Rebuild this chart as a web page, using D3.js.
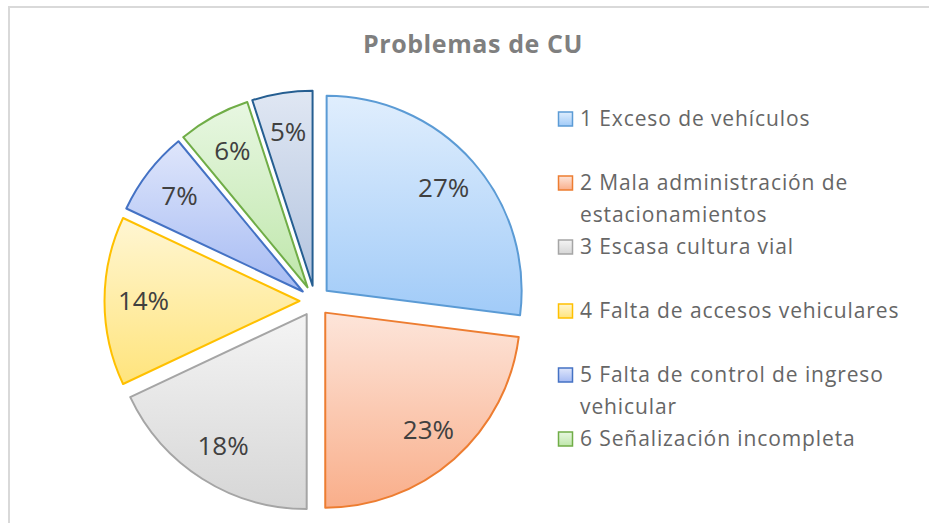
<!DOCTYPE html>
<html>
<head>
<meta charset="utf-8">
<script src="https://cdn.jsdelivr.net/npm/d3@7"></script>
<style>
  body { margin: 0; background: #fff; }
  svg { display: block; font-family: "Open Sans", sans-serif; }
</style>
</head>
<body>
<div id="chart"></div>
<script>
// data
var chartTitle = "Problemas de CU";
var categories = [
    "1 Exceso de vehículos",
    "2 Mala administración de estacionamientos",
    "3 Escasa cultura vial",
    "4 Falta de accesos vehiculares",
    "5 Falta de control de ingreso vehicular",
    "6 Señalización incompleta",
    "7 Otros"
];
var percents = [27, 23, 18, 14, 7, 6, 5];
// legend lines as they wrap in the picture (7th entry is cut off there)
var legendLines = [
    ["1 Exceso de vehículos"],
    ["2 Mala administración de", "estacionamientos"],
    ["3 Escasa cultura vial"],
    ["4 Falta de accesos vehiculares"],
    ["5 Falta de control de ingreso", "vehicular"],
    ["6 Señalización incompleta"]
];

// excel-ish palette: border colour, gradient top, gradient bottom
var strokeColors = ["#5b9bd5", "#ed7d31", "#a5a5a5", "#ffc000", "#4472c4", "#70ad47", "#255e91"];
var topColors    = ["#e0eefd", "#fde5da", "#f4f4f4", "#fff6d3", "#dfe6fb", "#e8f7e2", "#e0e7f3"];
var bottomColors = ["#a1cbf8", "#f9ae8a", "#d6d6d6", "#ffe47c", "#a6bbf3", "#bfe7ab", "#b3c4df"];

var width = 929, height = 523;
var cx = 315, cy = 301, radius = 195, explode = 15.5;

var svg = d3.select("#chart").append("svg")
    .attr("width", width)
    .attr("height", height);

// chart area border
svg.append("path")
    .attr("d", "M9," + height + "V7H" + width)
    .attr("fill", "none")
    .attr("stroke", "#d9d9d9")
    .attr("stroke-width", 2);

// gradients
var defs = svg.append("defs");
percents.forEach(function (p, i) {
    var g = defs.append("linearGradient")
        .attr("id", "grad" + i)
        .attr("x1", 0).attr("y1", 0).attr("x2", 0).attr("y2", 1);
    g.append("stop").attr("offset", "0%").attr("stop-color", topColors[i]);
    g.append("stop").attr("offset", "100%").attr("stop-color", bottomColors[i]);
});

// title
svg.append("text")
    .attr("x", 473)
    .attr("y", 53)
    .attr("text-anchor", "middle")
    .attr("font-size", 25)
    .attr("font-weight", "bold")
    .attr("letter-spacing", 0.6)
    .attr("fill", "#7f7f7f")
    .text(chartTitle);

// pie
var pie = d3.pie().value(function (d) { return d; }).sort(null);
var arc = d3.arc().innerRadius(0).outerRadius(radius);
var labelArc = d3.arc().innerRadius(156).outerRadius(156);

var g = svg.append("g").attr("transform", "translate(" + cx + "," + cy + ")");

var slices = g.selectAll("g.slice")
    .data(pie(percents))
    .enter()
    .append("g")
    .attr("class", "slice")
    .attr("transform", function (d) {
        var a = (d.startAngle + d.endAngle) / 2;
        return "translate(" + (explode * Math.sin(a)) + "," + (-explode * Math.cos(a)) + ")";
    });

slices.append("path")
    .attr("d", arc)
    .attr("fill", function (d, i) { return "url(#grad" + i + ")"; })
    .attr("stroke", function (d, i) { return strokeColors[i]; })
    .attr("stroke-width", 2)
    .attr("stroke-linejoin", "round");

slices.append("text")
    .attr("transform", function (d) { return "translate(" + labelArc.centroid(d) + ")"; })
    .attr("text-anchor", "middle")
    .attr("dy", "0.36em")
    .attr("font-size", 26)
    .attr("fill", "#404040")
    .text(function (d) { return d.data + "%"; });

// legend
var legend = svg.append("g");
var items = legend.selectAll("g.item")
    .data(legendLines)
    .enter()
    .append("g")
    .attr("class", "item")
    .attr("transform", function (d, i) { return "translate(0," + (126 + i * 64) + ")"; });

items.append("rect")
    .attr("x", 558.5)
    .attr("y", -14)
    .attr("width", 14)
    .attr("height", 14)
    .attr("fill", function (d, i) { return "url(#grad" + i + ")"; })
    .attr("stroke", function (d, i) { return strokeColors[i]; })
    .attr("stroke-width", 1.5);

items.selectAll("text")
    .data(function (d) { return d; })
    .enter()
    .append("text")
    .attr("x", 580)
    .attr("y", function (d, j) { return j * 32; })
    .attr("font-size", 21)
    .attr("letter-spacing", 0.9)
    .attr("fill", "#666666")
    .text(function (d) { return d; });
</script>
</body>
</html>
